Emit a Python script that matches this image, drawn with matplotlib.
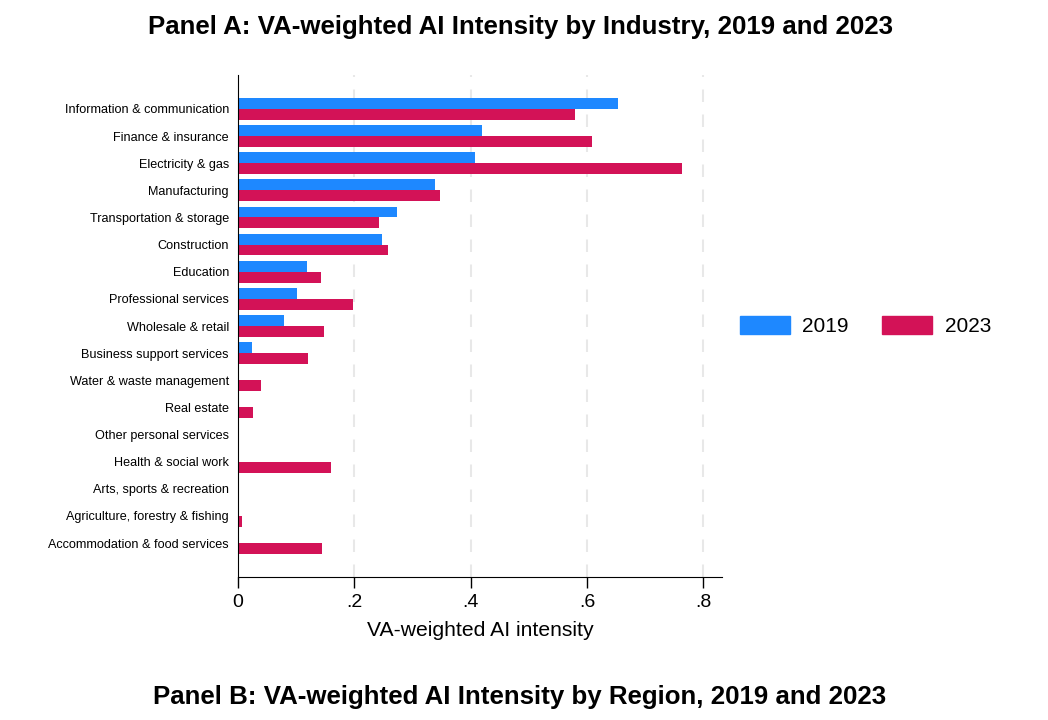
import numpy as np
import matplotlib
matplotlib.use("Agg")
from matplotlib import pyplot as plt
from matplotlib.patches import Patch

plt.rcParams['font.family'] = ['Liberation Sans', 'DejaVu Sans']

industries = [
    "Information & communication",
    "Finance & insurance",
    "Electricity & gas",
    "Manufacturing",
    "Transportation & storage",
    "Construction",
    "Education",
    "Professional services",
    "Wholesale & retail",
    "Business support services",
    "Water & waste management",
    "Real estate",
    "Other personal services",
    "Health & social work",
    "Arts, sports & recreation",
    "Agriculture, forestry & fishing",
    "Accommodation & food services",
]
ai_2019 = [0.654, 0.419, 0.407, 0.338, 0.274, 0.248, 0.118, 0.102, 0.079,
           0.0235, 0.0, 0.0, 0.0, 0.0, 0.0, 0.0, 0.0]
ai_2023 = [0.580, 0.609, 0.764, 0.347, 0.242, 0.257, 0.142, 0.197, 0.148,
           0.120, 0.040, 0.025, 0.0, 0.160, 0.0, 0.0075, 0.145]
xticks = [0, 0.2, 0.4, 0.6, 0.8]
xtick_labels = ["0", ".2", ".4", ".6", ".8"]

blue = "#1E88FF"
red = "#D31257"

fig = plt.figure(figsize=(10.48, 7.2), dpi=100)
ax = fig.add_axes([238 / 1048, 1 - 577 / 720, 484 / 1048, 502 / 720])

y = np.arange(len(industries))
ax.barh(y - 0.2, ai_2019, height=0.4, color=blue, label="2019")
ax.barh(y + 0.2, ai_2023, height=0.4, color=red, label="2023")

ax.set_ylim(len(industries) - 1 + 1.25, -1.25)
ax.set_xlim(0, 0.832)
ax.set_yticks(y)
ax.set_yticklabels(industries, fontsize=9.1)
ax.tick_params(axis='y', length=0, pad=6.5)
ax.set_xticks(xticks)
ax.set_xticklabels(xtick_labels, fontsize=14)
ax.tick_params(axis='x', length=8, width=1, pad=4.5)

# light dashed gridlines (none at zero)
for g in xticks[1:]:
    ax.axvline(g, color="#e8e8e8", linestyle=(0, (6, 6)), linewidth=1.5, zorder=0)

for side in ['top', 'right']:
    ax.spines[side].set_visible(False)
ax.set_xlabel("VA-weighted AI intensity", fontsize=15.2, labelpad=7)

handles = [Patch(color=blue, label="2019"), Patch(color=red, label="2023")]
fig.legend(handles=handles, loc='center left', bbox_to_anchor=(721 / 1048, 1 - 326 / 720),
           ncol=2, frameon=False, fontsize=15, handlelength=2.4, handleheight=1.0,
           handletextpad=0.6, columnspacing=1.6)

fig.text(520 / 1048, 1 - 27 / 720, "Panel A: VA-weighted AI Intensity by Industry, 2019 and 2023",
         ha='center', va='center', fontsize=18.6, fontweight='bold')
fig.text(520 / 1048, 1 - 697 / 720, "Panel B: VA-weighted AI Intensity by Region, 2019 and 2023",
         ha='center', va='center', fontsize=18.6, fontweight='bold')

fig.savefig("out.png", dpi=100)
